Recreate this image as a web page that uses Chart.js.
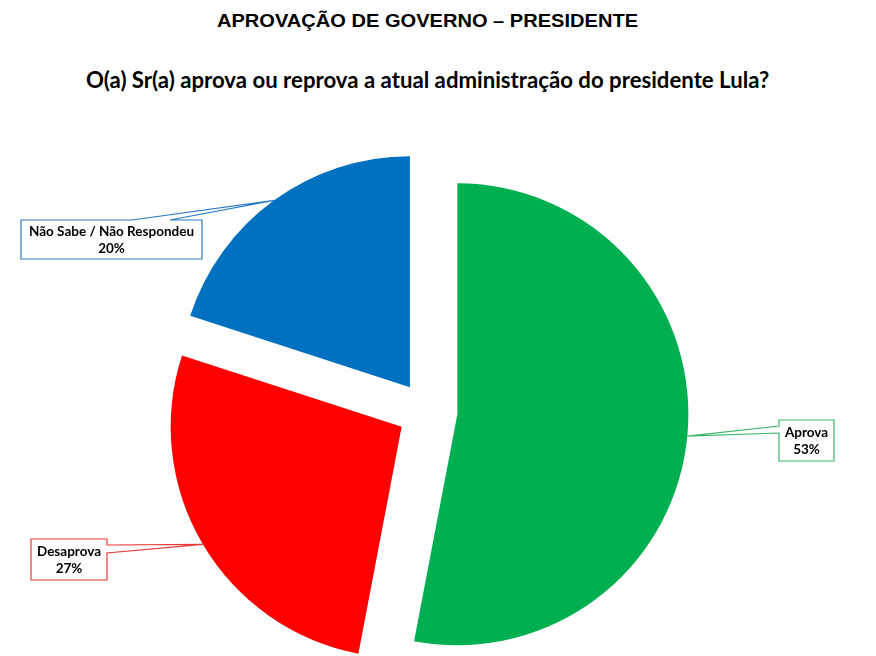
<!DOCTYPE html>
<html>
<head>
<meta charset="utf-8">
<script src="https://cdn.jsdelivr.net/npm/chart.js@4"></script>
<style>
  html, body { margin: 0; padding: 0; background: #fff; }
  #wrap { position: relative; width: 876px; height: 656px; overflow: hidden; }
  #chart { position: absolute; left: 0; top: 0; }
  .ttl { position: absolute; left: 0; width: 855px; text-align: center; color: #000; font-weight: bold; white-space: nowrap; }
  #t1 { top: 11px; font-family: "Liberation Sans", Arial, sans-serif; font-size: 18px; line-height: 20px; transform: scaleX(1.115); transform-origin: 427.5px 50%; }
  #t2 { top: 67px; font-family: Lato, "Open Sans", sans-serif; font-size: 22.2px; line-height: 26px; }
</style>
</head>
<body>
<div id="wrap">
  <div id="t1" class="ttl">APROVAÇÃO DE GOVERNO – PRESIDENTE</div>
  <div id="t2" class="ttl">O(a) Sr(a) aprova ou reprova a atual administração do presidente Lula?</div>
  <canvas id="chart" width="876" height="656"></canvas>
</div>
<script>
// chart data
const categories = ['Aprova', 'Desaprova', 'Não Sabe / Não Respondeu'];
const values = [53, 27, 20];
const sliceColors = ['#00B050', '#FF0000', '#0070C0'];
const calloutBorders = ['#3CB66A', '#E83B3B', '#2E7BC4'];

// callout boxes: [left, top, width, height] and where the pointer meets the box
const callouts = [
    { box: [779, 420, 55, 41], side: 'left', base: [426, 433] },
    { box: [31, 539, 76, 41], side: 'right', base: [545, 553] },
    { box: [21, 220, 181, 39], side: 'top', base: [132, 170] }
];

const EXPLODE = 30; // how far each slice is pulled out

document.addEventListener('DOMContentLoaded', () => {

    // draw each slice pulled out along its middle angle, same radius for all
    const explodePlugin = {
        id: 'explode',
        beforeDatasetDraw(chart, args) {
            const ctx = chart.ctx;
            args.meta.data.forEach(arc => {
                const mid = (arc.startAngle + arc.endAngle) / 2;
                ctx.save();
                ctx.translate(Math.cos(mid) * EXPLODE, Math.sin(mid) * EXPLODE);
                arc.draw(ctx);
                ctx.restore();
            });
            return false;
        }
    };

    // boxed labels with a thin wedge pointing at the slice
    const calloutPlugin = {
        id: 'callouts',
        afterDatasetsDraw(chart) {
            const ctx = chart.ctx;
            const arcs = chart.getDatasetMeta(0).data;
            arcs.forEach((arc, i) => {
                const c = callouts[i];
                const mid = (arc.startAngle + arc.endAngle) / 2;
                const r = arc.outerRadius + EXPLODE;
                const ax = arc.x + Math.cos(mid) * r;
                const ay = arc.y + Math.sin(mid) * r;
                const [l, t, w, h] = c.box;
                const rgt = l + w, btm = t + h;

                ctx.save();
                ctx.beginPath();
                if (c.side === 'left') {
                    ctx.moveTo(l, t); ctx.lineTo(rgt, t); ctx.lineTo(rgt, btm); ctx.lineTo(l, btm);
                    ctx.lineTo(l, c.base[1]); ctx.lineTo(ax, ay); ctx.lineTo(l, c.base[0]);
                } else if (c.side === 'right') {
                    ctx.moveTo(l, t); ctx.lineTo(rgt, t); ctx.lineTo(rgt, c.base[0]); ctx.lineTo(ax, ay);
                    ctx.lineTo(rgt, c.base[1]); ctx.lineTo(rgt, btm); ctx.lineTo(l, btm);
                } else {
                    ctx.moveTo(l, t); ctx.lineTo(c.base[0], t); ctx.lineTo(ax, ay); ctx.lineTo(c.base[1], t);
                    ctx.lineTo(rgt, t); ctx.lineTo(rgt, btm); ctx.lineTo(l, btm);
                }
                ctx.closePath();
                ctx.fillStyle = '#fff';
                ctx.fill();
                ctx.lineWidth = 1.2;
                ctx.strokeStyle = calloutBorders[i];
                ctx.stroke();

                ctx.fillStyle = '#000';
                ctx.font = 'bold 13.5px Lato, "Open Sans", sans-serif';
                ctx.textAlign = 'center';
                ctx.textBaseline = 'middle';
                const cx = l + w / 2;
                ctx.fillText(categories[i], cx, t + h / 2 - 8);
                ctx.fillText(values[i] + '%', cx, t + h / 2 + 9);
                ctx.restore();
            });
        }
    };

    new Chart(document.getElementById('chart'), {
        type: 'pie',
        data: {
            labels: categories,
            datasets: [{
                data: values,
                backgroundColor: sliceColors,
                borderWidth: 0
            }]
        },
        options: {
            responsive: false,
            animation: false,
            radius: 231,
            layout: { padding: { top: 167, right: 21, left: 0, bottom: 0 } },
            plugins: {
                legend: { display: false },
                tooltip: { enabled: false },
                title: { display: false }
            }
        },
        plugins: [explodePlugin, calloutPlugin]
    });
});
</script>
</body>
</html>
